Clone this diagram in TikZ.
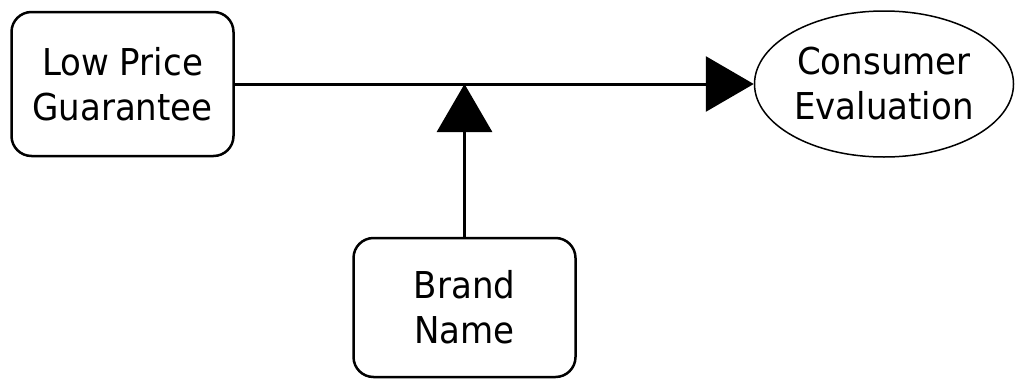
\documentclass[tikz,border=0pt]{standalone}
\usepackage{fontspec}
\setmainfont[FakeStretch=0.92]{DejaVu Sans}
\usetikzlibrary{arrows.meta,shapes.geometric}
\begin{document}
\begin{tikzpicture}[x=1pt,y=1pt,
  boxnode/.style={draw,line width=2.5pt,rounded corners=20pt,minimum width=222pt,minimum height=144pt,inner sep=0pt,align=center,font=\fontsize{37}{45}\selectfont},
  ellnode/.style={draw,ellipse,line width=1.5pt,minimum width=259pt,minimum height=146pt,inner sep=0pt,align=center,font=\fontsize{37}{45}\selectfont},
  conn/.style={line width=3pt,-{Triangle[length=48pt,width=55pt]}}]
\useasboundingbox (0,0) rectangle (1016,-380);
\node[boxnode] (lpg) at (122.5,-84) {Low Price\\Guarantee};
\node[ellnode] (ce) at (884,-84) {Consumer\\Evaluation};
\node[boxnode,minimum height=139pt] (bn) at (464.5,-307.5) {Brand\\Name};
\draw[conn] (lpg.east) -- (ce.west);
\coordinate (j) at (bn.north |- lpg.east);
\draw[conn] (bn.north) -- (j);
\end{tikzpicture}
\end{document}
